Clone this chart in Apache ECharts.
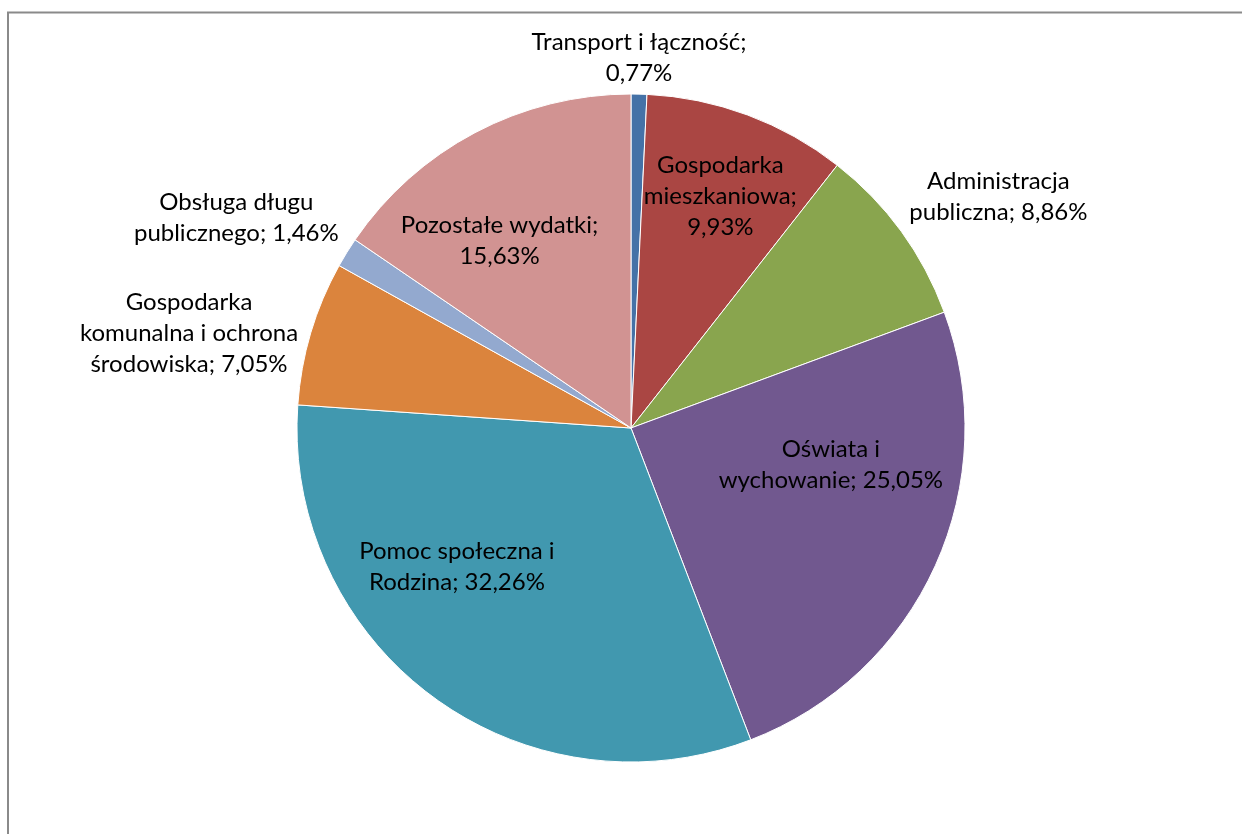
<!DOCTYPE html>
<html>
<head>
<meta charset="utf-8">
<script src="https://cdn.jsdelivr.net/npm/echarts@6/dist/echarts.min.js"></script>
<style>
  html, body { margin: 0; padding: 0; background: #fff; }
  #chart { width: 1242px; height: 834px; }
</style>
</head>
<body>
<div id="chart"></div>
<script>
// kategorie wydatków (z łamaniem linii jak w oryginale)
const categories = [
  'Transport i łączność',
  'Gospodarka\nmieszkaniowa',
  'Administracja\npubliczna',
  'Oświata i\nwychowanie',
  'Pomoc społeczna i\nRodzina',
  'Gospodarka\nkomunalna i ochrona\nśrodowiska',
  'Obsługa długu\npublicznego',
  'Pozostałe wydatki'
]
const shares = [0.77, 9.93, 8.86, 25.05, 32.26, 7.05, 1.46, 15.63]

// czy wartość ląduje w nowej linii
const valueOnNewLine = [true, true, false, false, false, false, false, true]
const colors = ['#4572A7', '#AA4643', '#89A54E', '#71588F', '#4198AF', '#DB843D', '#93A9CF', '#D19392']
// przesunięcia etykiet względem pozycji 'inside'
const labelShift = [[4, -200], [30, -72], [230, -131], [45, -33], [-73, 2], [-279, -46], [-250, -121], [-52, -37]]

const chart = echarts.init(document.getElementById('chart'), null, { renderer: 'canvas' })

chart.setOption({
  animation: false,
  graphic: [{
    type: 'rect',
    shape: { x: 8, y: 12.5, width: 1400, height: 1000 },
    style: { fill: 'none', stroke: '#8a8a8a', lineWidth: 2 },
    silent: true
  }],
  series: [{
    type: 'pie',
    center: [631, 428],
    radius: 334,
    startAngle: 90,
    clockwise: true,
    avoidLabelOverlap: false,
    itemStyle: { borderColor: '#fff', borderWidth: 1 },
    emphasis: { disabled: true },
    label: {
      show: true,
      position: 'inside',
      color: '#000',
      fontFamily: 'Lato',
      fontSize: 24,
      lineHeight: 31,
      align: 'center',
      formatter: (p) => {
        const v = shares[p.dataIndex].toFixed(2).replace('.', ',') + '%'
        return p.name + ';' + (valueOnNewLine[p.dataIndex] ? '\n' : ' ') + v
      }
    },
    labelLine: { show: false },
    labelLayout: (params) => {
      const s = labelShift[params.dataIndex]
      return { dx: s[0], dy: s[1] }
    },
    data: categories.map((name, i) => ({
      name,
      value: shares[i],
      itemStyle: { color: colors[i] }
    }))
  }]
})
</script>
</body>
</html>
